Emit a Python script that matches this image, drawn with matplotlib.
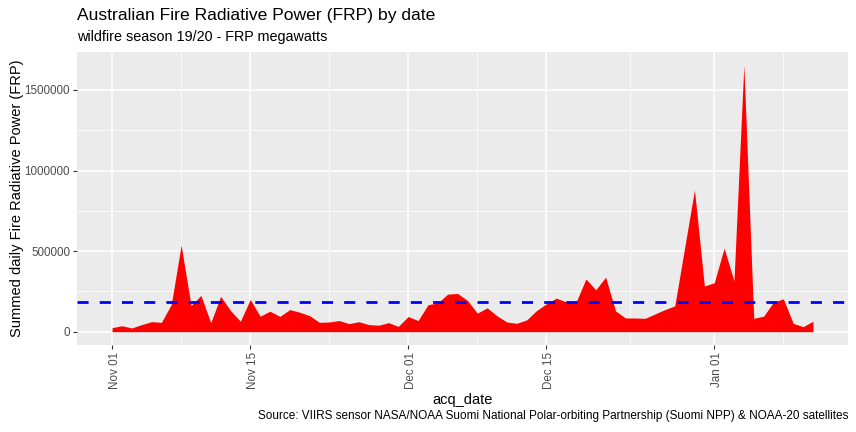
import matplotlib
matplotlib.use("Agg")
import matplotlib.pyplot as plt
import matplotlib.dates as mdates
import matplotlib.transforms as mtransforms
import numpy as np

# daily summed FRP, 2019-11-01 .. 2020-01-11
start_date = np.datetime64("2019-11-01")
frp = [
    25000, 37000, 23000, 44000, 62000, 58000, 169000, 537000, 162000, 225000,
    56000, 219000, 131000, 65000, 200000, 96000, 127000, 95000, 137000, 121000,
    100000, 58000, 60000, 69000, 50000, 62000, 44000, 40000, 56000, 33000,
    94000, 69000, 167000, 179000, 233000, 237000, 194000, 115000, 148000, 98000,
    60000, 52000, 73000, 131000, 173000, 208000, 185000, 183000, 327000, 260000,
    338000, 129000, 85000, 85000, 83000, 110000, 137000, 160000, 520000, 880000,
    283000, 304000, 518000, 315000, 1653000, 83000, 96000, 183000, 204000, 52000,
    31000, 65000,
]
acq_date = start_date + np.arange(len(frp))
mean_frp = 184000

major_dates = np.array(["2019-11-01", "2019-11-15", "2019-12-01", "2019-12-15", "2020-01-01"],
                       dtype="datetime64[D]")
major_labels = ["Nov 01", "Nov 15", "Dec 01", "Dec 15", "Jan 01"]
minor_dates = np.array(["2019-11-08T00", "2019-11-23T00", "2019-12-08T00", "2019-12-23T12", "2020-01-08T00"],
                       dtype="datetime64[h]")
y_major = [0, 500000, 1000000, 1500000]
y_minor = [250000, 750000, 1250000]

plt.rcParams["font.family"] = ["Liberation Sans", "DejaVu Sans"]

fig = plt.figure(figsize=(8.56, 4.32), dpi=100)
ax = fig.add_axes([77 / 856, 87 / 432, 771 / 856, 293 / 432])
ax.set_facecolor("#EBEBEB")

x = mdates.date2num(acq_date.astype("datetime64[D]"))
ax.fill_between(x, 0, frp, color="red", linewidth=0, zorder=2)
ax.axhline(mean_frp, color="blue", linewidth=2.0, linestyle=(0, (4, 4)), zorder=3)

span = x[-1] - x[0]
ax.set_xlim(x[0] - 0.05 * span, x[-1] + 0.05 * span)
ymax = max(frp)
ax.set_ylim(-0.05 * ymax, 1.05 * ymax)

ax.set_xticks(mdates.date2num(major_dates), major_labels, rotation=90, fontsize=8.4)
ax.set_xticks(mdates.date2num(minor_dates), minor=True)
ax.set_yticks(y_major, [str(v) for v in y_major], fontsize=8.4)
ax.set_yticks(y_minor, minor=True)

ax.grid(True, which="major", color="white", linewidth=1.1, zorder=1)
ax.grid(True, which="minor", color="white", linewidth=0.55, zorder=1)
ax.set_axisbelow(True)
for s in ax.spines.values():
    s.set_visible(False)

ax.tick_params(which="major", length=3, width=0.8, color="#333333",
               labelcolor="#4D4D4D", pad=2)
ax.tick_params(which="minor", length=0)

# ggplot puts the rotated date labels slightly right of the tick
shift = mtransforms.ScaledTranslation(3 / 100, 0, fig.dpi_scale_trans)
for lbl in ax.get_xticklabels():
    lbl.set_transform(lbl.get_transform() + shift)

ax.set_xlabel("acq_date", fontsize=10.5)
ax.xaxis.set_label_coords(0.5, -(393 - 345) / 293)
ax.set_ylabel("Summed daily Fire Radiative Power (FRP)", fontsize=10.5)
ax.yaxis.set_label_coords(-(77 - 24) / 771, 0.5)

fig.text(77 / 856, 1 - 20 / 432, "Australian Fire Radiative Power (FRP) by date",
         fontsize=12.6, ha="left", va="baseline")
fig.text(77 / 856, 1 - 41 / 432, "wildfire season 19/20 - FRP megawatts",
         fontsize=10.4, ha="left", va="baseline")
fig.text(848 / 856, 1 - 419 / 432,
         "Source: VIIRS sensor NASA/NOAA Suomi National Polar-orbiting Partnership (Suomi NPP) & NOAA-20 satellites",
         fontsize=8.5, ha="right", va="baseline")

fig.savefig("out.png", dpi=100)
